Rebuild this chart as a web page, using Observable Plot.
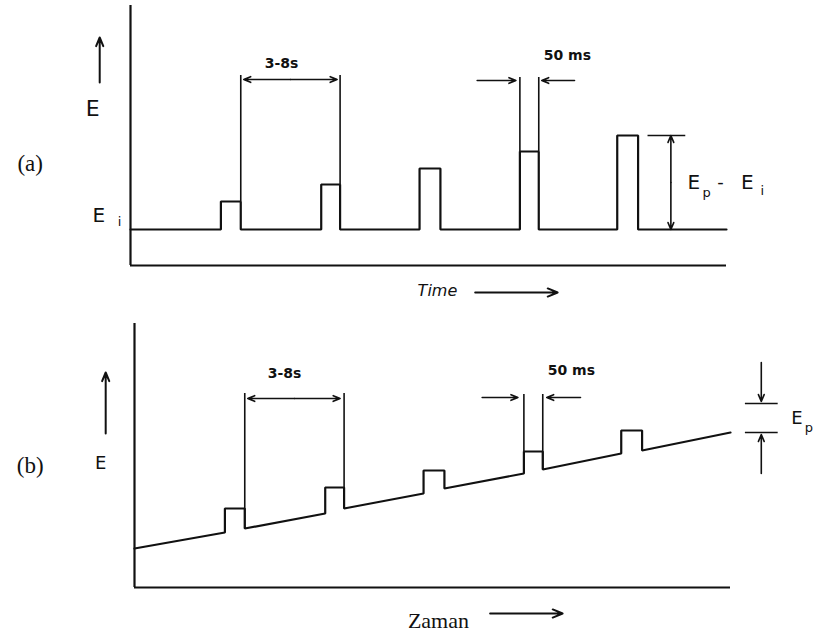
<!DOCTYPE html>
<html>
<head>
<meta charset="utf-8">
<script src="https://cdn.jsdelivr.net/npm/d3@7"></script>
<script src="https://cdn.jsdelivr.net/npm/@observablehq/plot@0.6"></script>
<style>
  body { margin: 0; background: #fff; }
  #chart { position: relative; width: 817px; height: 644px; overflow: hidden; background: #fff; }
  #chart svg { position: absolute; left: 0; }
</style>
</head>
<body>
<div id="chart"></div>
<script>
// ---------- data (time in pulse-period units, E in arbitrary units) ----------
const pulseStart = [0.91, 1.92, 2.91, 3.92, 4.90];
const pulseEnd   = [1.11, 2.11, 3.12, 4.11, 5.11];
const tEnd = 6;

// (a) normal pulse: constant initial potential Ei, growing pulse amplitudes
const Ei = 0;
const pulseHeightA = [2.8, 4.5, 6.1, 7.8, 9.4];

// (b) differential pulse: linear ramp with constant-amplitude pulses
const rampStartB = 3.9;
const rampEndB = 15.5;
const baseBeforeB = [5.5, 7.4, 9.4, 11.4, 13.4];
const pulseTopB   = [7.9, 10.0, 11.7, 13.6, 15.7];
const baseAfterB  = [5.9, 7.9, 9.9, 11.8, 13.7];

// text labels
const panelLabels = ["(a)", "(b)"];
const axisLabel = "E";
const timeLabels = ["Time", "Zaman"];
const periodLabel = "3-8s";
const widthLabel = "50 ms";

// ---------- build waveforms ----------
const waveA = [{t: 0, E: Ei}];
pulseStart.forEach((s, i) => {
  const e = pulseEnd[i], top = Ei + pulseHeightA[i];
  waveA.push({t: s, E: Ei}, {t: s, E: top}, {t: e, E: top}, {t: e, E: Ei});
});
waveA.push({t: tEnd, E: Ei});

const waveB = [{t: 0, E: rampStartB}];
pulseStart.forEach((s, i) => {
  const e = pulseEnd[i];
  waveB.push({t: s, E: baseBeforeB[i]}, {t: s, E: pulseTopB[i]}, {t: e, E: pulseTopB[i]}, {t: e, E: baseAfterB[i]});
});
waveB.push({t: tEnd, E: rampEndB});

// ---------- helpers ----------
const INK = "#111";
const SANS = "DejaVu Sans, sans-serif";
const SERIF = "Liberation Serif, Times New Roman, serif";
const arrow = (x1, y1, x2, y2, o = {}) =>
  Plot.arrow([{x1, y1, x2, y2}], {x1: "x1", y1: "y1", x2: "x2", y2: "y2",
    stroke: INK, strokeWidth: 1.6, headLength: 7, headAngle: 45, ...o});
const vline = (t, y1, y2, w = 1.6) => Plot.ruleX([t], {y1, y2, stroke: INK, strokeWidth: w});
const hline = (E, x1, x2, w = 1.6) => Plot.ruleY([E], {x1, x2, stroke: INK, strokeWidth: w});
const label = (s, t, E, size, o = {}) =>
  Plot.text([s], {x: () => t, y: () => E, text: d => d, fontSize: size,
    fontFamily: SANS, fill: INK, ...o});

const chart = document.getElementById("chart");

// ---------- panel (a) ----------
const yBottomA = -3.6, yTopA = 22.4;
const plotA = Plot.plot({
  width: 817, height: 300, margin: 0,
  x: {domain: [0, tEnd], range: [130, 726], axis: null},
  y: {domain: [yBottomA, yTopA], range: [265, 5], axis: null},
  style: {background: "transparent", overflow: "visible"},
  marks: [
    // axes
    vline(0, yBottomA, yTopA, 2.2),
    hline(yBottomA, 0, tEnd, 2.2),
    // waveform
    Plot.line(waveA, {x: "t", y: "E", stroke: INK, strokeWidth: 2.2, strokeLinejoin: "miter"}),
    // period dimension
    vline(pulseEnd[0], Ei + pulseHeightA[0], 15.4),
    vline(pulseEnd[1], Ei + pulseHeightA[1], 15.4),
    arrow(1.61, 15.0, 1.14, 15.0),
    arrow(1.61, 15.0, 2.08, 15.0),
    label(periodLabel, 1.52, 16.6, 14, {fontWeight: "bold"}),
    // pulse-width dimension
    vline(pulseStart[3], Ei + pulseHeightA[3], 15.2),
    vline(pulseEnd[3], Ei + pulseHeightA[3], 15.2),
    arrow(3.49, 14.9, 3.88, 14.9),
    arrow(4.47, 14.9, 4.14, 14.9),
    label(widthLabel, 4.16, 17.4, 14, {textAnchor: "start", fontWeight: "bold"}),
    // Ep - Ei dimension
    hline(Ei + pulseHeightA[4], 5.21, 5.59),
    arrow(5.44, 4.7, 5.44, Ei + pulseHeightA[4]),
    arrow(5.44, 4.7, 5.44, Ei),
    label("E", 5.67, 4.7, 20),
    label("p", 5.80, 3.7, 13),
    label("-", 5.94, 4.7, 18),
    label("E", 6.21, 4.7, 20),
    label("i", 6.36, 3.9, 13),
    // left-hand labels
    label(panelLabels[0], -1.01, 6.6, 23, {fontFamily: SERIF}),
    label(axisLabel, -0.38, 12.1, 22),
    arrow(-0.31, 14.7, -0.31, 19.2, {strokeWidth: 2}),
    label("E", -0.32, 1.4, 20),
    label("i", -0.11, 0.8, 13),
    // time label
    label(timeLabels[0], 3.09, -6.1, 16, {fontStyle: "italic"}),
    arrow(3.47, -6.3, 4.30, -6.3, {strokeWidth: 2, headLength: 8})
  ]
});
plotA.style.top = "0px";
chart.appendChild(plotA);

// ---------- panel (b) ----------
const yBottomB = 0, yTopB = 26.4;
const plotB = Plot.plot({
  width: 817, height: 344, margin: 0,
  x: {domain: [0, tEnd], range: [134, 730], axis: null},
  y: {domain: [yBottomB, yTopB], range: [287, 23], axis: null},
  style: {background: "transparent", overflow: "visible"},
  marks: [
    vline(0, yBottomB, yTopB, 2.2),
    hline(yBottomB, 0, tEnd, 2.2),
    Plot.line(waveB, {x: "t", y: "E", stroke: INK, strokeWidth: 2.2, strokeLinejoin: "miter"}),
    // period dimension
    vline(pulseEnd[0], baseAfterB[0], 19.4),
    vline(pulseEnd[1], baseAfterB[1], 19.4),
    arrow(1.61, 18.9, 1.14, 18.9),
    arrow(1.61, 18.9, 2.07, 18.9),
    label(periodLabel, 1.51, 21.4, 14, {fontWeight: "bold"}),
    // pulse-width dimension
    vline(pulseStart[3], pulseTopB[3], 19.3),
    vline(pulseEnd[3], baseAfterB[3], 19.3),
    arrow(3.50, 19.0, 3.86, 19.0),
    arrow(4.49, 19.0, 4.15, 19.0),
    label(widthLabel, 4.16, 21.7, 14, {textAnchor: "start", fontWeight: "bold"}),
    // Ep dimension
    arrow(6.31, 22.5, 6.31, 18.6),
    hline(18.4, 6.15, 6.48),
    hline(15.5, 6.15, 6.48),
    arrow(6.31, 11.4, 6.31, 15.3),
    label("E", 6.67, 16.9, 18),
    label("p", 6.79, 16.0, 13),
    // left-hand labels
    label(panelLabels[1], -1.05, 12.2, 23, {fontFamily: SERIF}),
    label(axisLabel, -0.34, 12.4, 18),
    arrow(-0.29, 15.4, -0.29, 21.5, {strokeWidth: 2}),
    // time label
    label(timeLabels[1], 3.06, -3.3, 22, {fontFamily: SERIF}),
    arrow(3.58, -2.6, 4.31, -2.6, {strokeWidth: 2, headLength: 8})
  ]
});
plotB.style.top = "300px";
chart.appendChild(plotB);
</script>
</body>
</html>
